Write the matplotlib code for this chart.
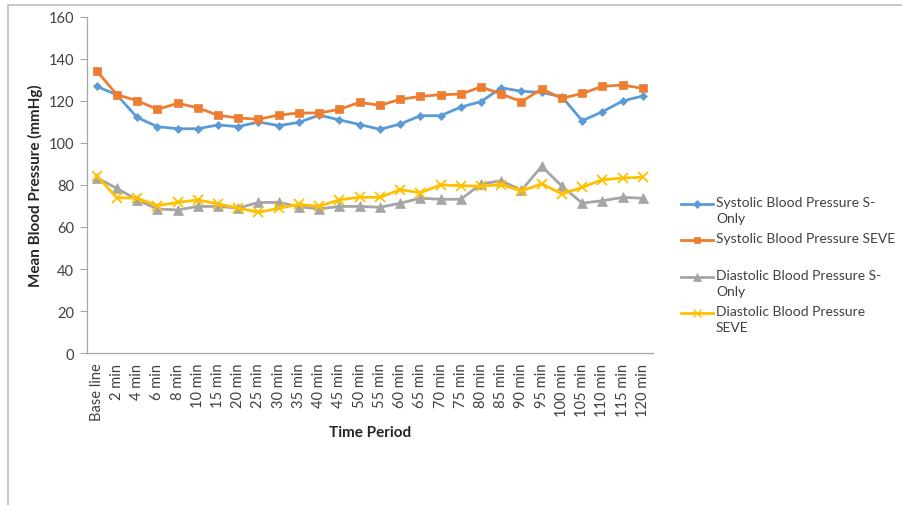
import matplotlib

matplotlib.use("Agg")
import matplotlib.pyplot as plt
from matplotlib.lines import Line2D
from matplotlib.patches import Rectangle

plt.rcParams["font.family"] = ["Lato", "DejaVu Sans"]

periods = ["Base line", "2 min", "4 min", "6 min", "8 min", "10 min", "15 min",
           "20 min", "25 min", "30 min", "35 min", "40 min", "45 min", "50 min",
           "55 min", "60 min", "65 min", "70 min", "75 min", "80 min", "85 min",
           "90 min", "95 min", "100 min", "105 min", "110 min", "115 min", "120 min"]

sys_s_only = [127.0, 122.9, 112.2, 107.8, 106.8, 106.8, 108.6, 107.8, 110.0, 108.3,
              109.8, 113.3, 111.0, 108.8, 106.5, 109.0, 113.0, 113.0, 117.1, 119.7,
              126.3, 124.6, 124.1, 122.0, 110.6, 114.9, 120.0, 122.4]
sys_seve = [134.4, 123.0, 120.2, 116.0, 118.9, 116.8, 113.2, 111.9, 111.3, 113.3,
            114.3, 114.3, 116.0, 119.4, 117.9, 120.8, 122.2, 123.0, 123.3, 126.7,
            123.3, 119.7, 125.7, 121.3, 123.6, 127.0, 127.6, 126.0]
dia_s_only = [83.5, 78.4, 72.9, 68.6, 68.1, 69.8, 69.8, 69.0, 71.7, 71.7,
              69.7, 68.6, 69.8, 69.8, 69.4, 71.3, 73.7, 73.2, 73.2, 80.5,
              82.0, 77.5, 88.9, 79.4, 71.4, 72.5, 74.1, 73.7]
dia_seve = [84.4, 74.0, 73.7, 70.2, 71.7, 72.9, 71.0, 69.0, 67.0, 68.9,
            70.8, 69.8, 73.0, 74.1, 74.1, 77.8, 76.3, 80.0, 79.7, 79.4,
            80.2, 77.1, 80.6, 75.7, 78.9, 82.5, 83.3, 83.7]

series = [
    ("Systolic Blood Pressure S-\nOnly", sys_s_only, "#5B9BD5", "D", 4.5),
    ("Systolic Blood Pressure SEVE", sys_seve, "#ED7D31", "s", 6),
    ("Diastolic Blood Pressure S-\nOnly", dia_s_only, "#A5A5A5", "^", 6.5),
    ("Diastolic Blood Pressure\nSEVE", dia_seve, "#FFC000", "x", 7),
]

W, H = 902, 506
fig = plt.figure(figsize=(W / 100, H / 100), dpi=100)
ax = fig.add_axes([86.5 / W, (H - 354) / H, (653 - 86.5) / W, (354 - 18) / H])

x = range(len(periods))
for label, values, color, marker, ms in series:
    ax.plot(x, values, color=color, lw=2, marker=marker, ms=ms,
            markeredgewidth=1.3 if marker == "x" else 0.5, markeredgecolor=color)

ax.set_xlim(-0.5, len(periods) - 0.5)
ax.set_ylim(0, 160)
ax.set_yticks(range(0, 161, 20))
ax.set_xticks(list(x))
ax.set_xticklabels(periods, rotation=90, fontsize=10.5, color="#404040")
ax.tick_params(axis="y", length=5, width=0.8, color="#A6A6A6", labelsize=10.5,
               labelcolor="#404040", pad=4)
ax.tick_params(axis="x", length=0, pad=7)
for side in ("top", "right"):
    ax.spines[side].set_visible(False)
for side in ("left", "bottom"):
    ax.spines[side].set_color("#A6A6A6")
    ax.spines[side].set_linewidth(0.9)

fig.text(35 / W, 1 - 186 / H, "Mean Blood Pressure (mmHg)", rotation=90,
         ha="center", va="center", fontsize=11, fontweight="bold", color="#262626")
fig.text(370 / W, 1 - 433 / H, "Time Period", ha="center", va="center",
         fontsize=11, fontweight="bold", color="#262626")

# legend drawn by hand so the handle sits on the first line of each label
rows = [205, 241, 278, 314]
for (label, values, color, marker, ms), y in zip(series, rows):
    yf = 1 - y / H
    fig.add_artist(Line2D([681 / W, 713 / W], [yf, yf], transform=fig.transFigure,
                          color=color, lw=2))
    fig.add_artist(Line2D([697 / W], [yf], transform=fig.transFigure, color=color,
                          marker=marker, ms=ms * 0.8, markeredgecolor=color,
                          markeredgewidth=1 if marker == "x" else 0.5))
    fig.text(716 / W, yf + 8 / H, label, ha="left", va="top", fontsize=10,
             color="#404040", linespacing=1.45, transform=fig.transFigure)

fig.add_artist(Rectangle((8 / W, -0.05), 1.1, 1.05 - 6 / H, transform=fig.transFigure,
                         fill=False, edgecolor="#BFBFBF", lw=1.2))

fig.savefig("out.png", dpi=100)
